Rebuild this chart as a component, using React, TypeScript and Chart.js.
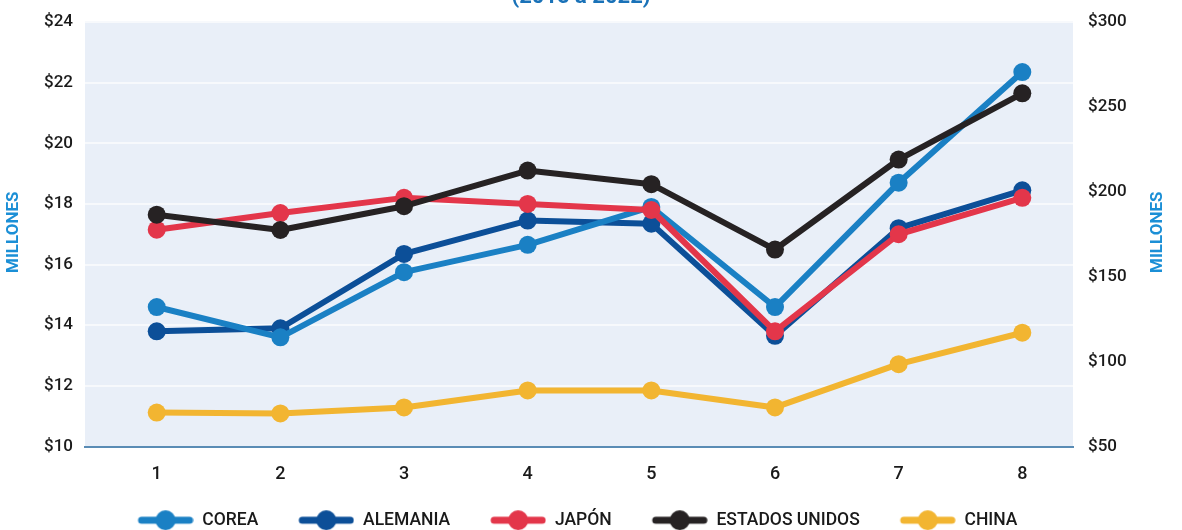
import { useEffect, useRef } from "react";
import { Chart, registerables } from "chart.js";
Chart.register(...registerables);

const TITLE = "(2015 a 2022)";
const Y_TITLE = "MILLONES";
const X_LABELS = [1, 2, 3, 4, 5, 6, 7, 8];
const NAMES = ["COREA", "ALEMANIA", "JAPÓN", "ESTADOS UNIDOS", "CHINA"];
const COREA = [14.6, 13.6, 15.75, 16.65, 17.9, 14.6, 18.7, 22.35];
const ALEMANIA = [13.8, 13.9, 16.35, 17.45, 17.35, 13.65, 17.2, 18.45];
const JAPON = [17.15, 17.7, 18.2, 18.0, 17.8, 13.8, 17.0, 18.2];
const EEUU = [186.5, 177.5, 191.5, 212.5, 204.5, 166, 219, 258];
const CHINA = [70, 69.5, 73, 83, 83, 73, 98.5, 117];
const LEFT_MIN = 10;
const LEFT_MAX = 24;
const LEFT_STEP = 2;
const RIGHT_MIN = 50;
const RIGHT_MAX = 300;
const RIGHT_STEP = 50;

const COLORS = ["#1a80c4", "#0c4f98", "#e3364a", "#262223", "#f2b531"];
const FONT = 'Roboto, "Noto Sans", sans-serif';
const ICON_GAP = 32;

function makeIcon(color: string) {
  const c = document.createElement("canvas");
  c.width = 56 + ICON_GAP;
  c.height = 22;
  const ctx = c.getContext("2d")!;
  ctx.strokeStyle = color;
  ctx.fillStyle = color;
  ctx.lineWidth = 7;
  ctx.lineCap = "round";
  ctx.beginPath();
  ctx.moveTo(ICON_GAP + 4, 11);
  ctx.lineTo(ICON_GAP + 52, 11);
  ctx.stroke();
  ctx.beginPath();
  ctx.arc(ICON_GAP + 28, 11, 10, 0, Math.PI * 2);
  ctx.fill();
  return c;
}

export default function App() {
  const ref = useRef<HTMLCanvasElement | null>(null);

  useEffect(() => {
    if (!ref.current) return;
    const icons = COLORS.map(makeIcon);
    const seriesValues = [COREA, ALEMANIA, JAPON, EEUU, CHINA];
    const axisIds = ["y", "y", "y", "y2", "y2"];
    const orders = [2, 3, 1, 0, 4];

    const bgPlugin = {
      id: "plotBg",
      beforeDraw(chart: any) {
        const { ctx, chartArea: a } = chart;
        ctx.save();
        ctx.fillStyle = "#e9eff8";
        ctx.fillRect(a.left, a.top, a.right - a.left, a.bottom - a.top);
        ctx.restore();
      },
    };

    const textPlugin = {
      id: "texts",
      afterDraw(chart: any) {
        const { ctx, chartArea: a } = chart;
        const cy = (a.top + a.bottom) / 2;
        ctx.save();
        ctx.textAlign = "center";
        ctx.textBaseline = "middle";
        ctx.fillStyle = "#1a72b8";
        ctx.font = `bold 22px ${FONT}`;
        ctx.fillText(TITLE, 581, 27);
        ctx.fillStyle = "#1b8fd6";
        ctx.font = `bold 17px ${FONT}`;
        [14, 1158].forEach((x) => {
          ctx.save();
          ctx.translate(x, cy - 2);
          ctx.rotate(-Math.PI / 2);
          ctx.fillText(Y_TITLE, 0, 0);
          ctx.restore();
        });
        ctx.restore();
      },
    };

    const chart = new Chart(ref.current, {
      type: "line",
      data: {
        datasets: NAMES.map((name, i) => ({
          label: name,
          data: X_LABELS.map((x, j) => ({ x, y: seriesValues[i][j] })),
          yAxisID: axisIds[i],
          borderColor: COLORS[i],
          backgroundColor: COLORS[i],
          borderWidth: 6,
          borderCapStyle: "round",
          borderJoinStyle: "round",
          pointRadius: 9,
          pointHoverRadius: 9,
          pointBorderWidth: 0,
          pointBackgroundColor: COLORS[i],
          order: orders[i],
          tension: 0,
        })) as any,
      },
      options: {
        responsive: false,
        devicePixelRatio: 1,
        animation: false,
        layout: { padding: { left: -59, right: 0, top: 52, bottom: 0 } },
        plugins: {
          title: { display: false },
          legend: {
            position: "bottom",
            labels: {
              usePointStyle: true,
              pointStyleWidth: 56 + ICON_GAP,
              padding: 8,
              color: "#1a1a1a",
              font: { family: FONT, size: 17.5, weight: "500" },
              generateLabels: (c: any) => {
                const items = (Chart.defaults.plugins.legend.labels as any).generateLabels(c);
                return items
                  .sort((a: any, b: any) => a.datasetIndex - b.datasetIndex)
                  .map((it: any) => ({ ...it, pointStyle: icons[it.datasetIndex] }));
              },
              sort: (a: any, b: any) => a.datasetIndex - b.datasetIndex,
            },
          },
          tooltip: { enabled: false },
        },
        scales: {
          x: {
            type: "linear",
            min: 0.42,
            max: 8.41,
            afterBuildTicks: (s: any) => {
              s.ticks = X_LABELS.map((v) => ({ value: v }));
            },
            afterFit: (s: any) => {
              s.height = 57;
            },
            grid: { display: false, drawTicks: false },
            border: { display: true, color: "#5a8cb5", width: 2 },
            ticks: {
              color: "#1a1a1a",
              padding: 17,
              font: { family: FONT, size: 18, weight: "500" },
              callback: (v: any) => String(v),
            },
          },
          y: {
            type: "linear",
            position: "left",
            min: LEFT_MIN,
            max: LEFT_MAX,
            afterFit: (s: any) => {
              s.width = 144;
            },
            grid: { color: "#f7f9fc", lineWidth: 2, drawTicks: false },
            border: { display: false },
            ticks: {
              stepSize: LEFT_STEP,
              color: "#1a1a1a",
              padding: 12,
              font: { family: FONT, size: 17, weight: "500" },
              callback: (v: any) => "$" + v,
            },
          },
          y2: {
            type: "linear",
            position: "right",
            min: RIGHT_MIN,
            max: RIGHT_MAX,
            afterFit: (s: any) => {
              s.width = 109;
            },
            grid: { display: false, drawTicks: false },
            border: { display: false },
            ticks: {
              stepSize: RIGHT_STEP,
              color: "#1a1a1a",
              padding: 15,
              font: { family: FONT, size: 17, weight: "500" },
              callback: (v: any) => "$" + v,
            },
          },
        },
      } as any,
      plugins: [bgPlugin, textPlugin],
    });
    return () => chart.destroy();
  }, []);

  return (
    <div
      style={{
        position: "fixed",
        left: 0,
        top: 0,
        width: 1182,
        height: 530,
        overflow: "hidden",
        background: "#fff",
      }}
    >
      <canvas
        ref={ref}
        width={1182}
        height={569}
        style={{ position: "absolute", left: 0, top: -30 }}
      />
    </div>
  );
}
